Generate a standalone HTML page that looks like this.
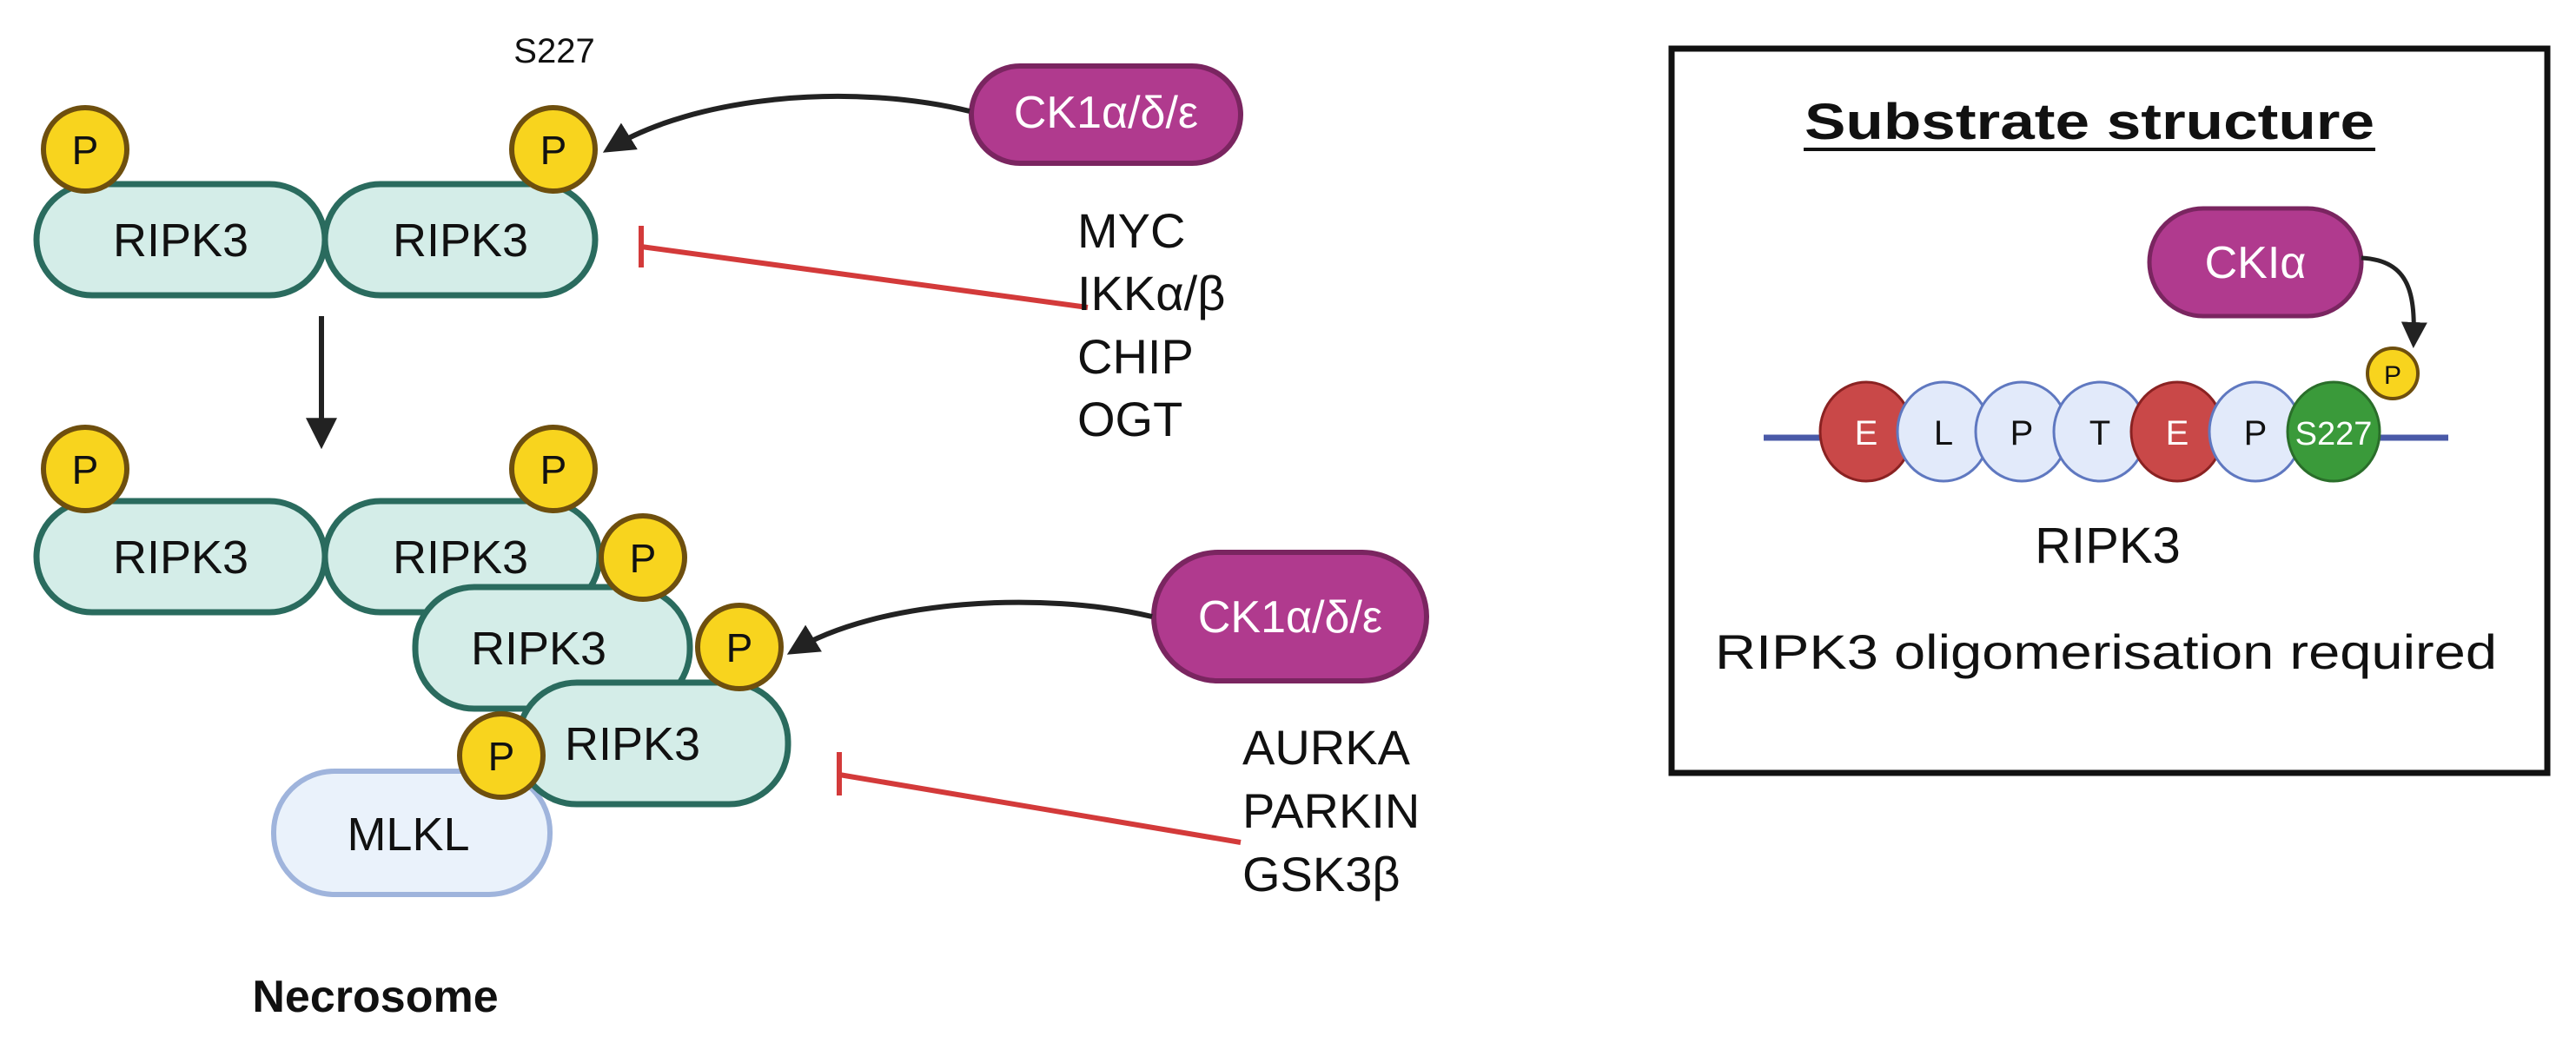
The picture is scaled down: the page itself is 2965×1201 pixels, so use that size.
<!DOCTYPE html>
<html><head><meta charset="utf-8"><style>html,body{margin:0;padding:0;background:#fff}svg{display:block}</style></head>
<body>
<svg width="2965" height="1201" viewBox="0 0 2965 1201" xmlns="http://www.w3.org/2000/svg" font-family="Liberation Sans, Arial, sans-serif">
<defs>
<marker id="ah" viewBox="0 0 10 10" refX="8" refY="5" markerWidth="6" markerHeight="6" orient="auto" markerUnits="strokeWidth"><path d="M0,0 L10,5 L0,10 z" fill="#222"/></marker>
</defs>
<g stroke="#2a6b5e" stroke-width="7" fill="#d4ede8">
<rect x="42" y="212" width="332" height="128" rx="64"/>
<rect x="374" y="212" width="311" height="128" rx="64"/>
</g>
<g fill="#f8d41e" stroke="#6e4f0e" stroke-width="6">
<circle cx="98" cy="172" r="48"/><circle cx="637" cy="172" r="48"/>
</g>
<g font-size="54" text-anchor="middle" fill="#111">
<text x="208" y="295">RIPK3</text><text x="530" y="295">RIPK3</text>
</g>
<text x="638" y="72" font-size="40" text-anchor="middle" fill="#111">S227</text>
<g stroke="#2a6b5e" stroke-width="7" fill="#d4ede8">
<rect x="42" y="577" width="332" height="128" rx="64"/>
<rect x="374" y="577" width="316" height="128" rx="64"/>
</g>
<g fill="#f8d41e" stroke="#6e4f0e" stroke-width="6">
<circle cx="98" cy="540" r="48"/><circle cx="637" cy="540" r="48"/>
</g>
<g stroke="#2a6b5e" stroke-width="7" fill="#d4ede8"><rect x="478" y="676" width="316" height="140" rx="68"/></g>
<circle cx="740" cy="642" r="48" fill="#f8d41e" stroke="#6e4f0e" stroke-width="6"/>
<rect x="315" y="888" width="318" height="142" rx="70" fill="#eaf2fb" stroke="#9fb4dc" stroke-width="6"/>
<g stroke="#2a6b5e" stroke-width="7" fill="#d4ede8"><rect x="596" y="786" width="311" height="140" rx="68"/></g>
<circle cx="851" cy="745" r="48" fill="#f8d41e" stroke="#6e4f0e" stroke-width="6"/>
<circle cx="577" cy="870" r="48" fill="#f8d41e" stroke="#6e4f0e" stroke-width="6"/>
<g font-size="54" text-anchor="middle" fill="#111">
<text x="208" y="660">RIPK3</text><text x="530" y="660">RIPK3</text>
<text x="620" y="765">RIPK3</text><text x="728" y="875">RIPK3</text>
<text x="470" y="979">MLKL</text>
</g>
<g font-size="46" text-anchor="middle" fill="#111">
<text x="98" y="189">P</text><text x="637" y="189">P</text>
<text x="98" y="557">P</text><text x="637" y="557">P</text>
<text x="740" y="659">P</text><text x="851" y="762">P</text><text x="577" y="887">P</text>
</g>
<text x="432" y="1165" font-size="52" font-weight="bold" text-anchor="middle" fill="#111">Necrosome</text>
<line x1="370" y1="364" x2="370" y2="510" stroke="#222" stroke-width="6" marker-end="url(#ah)"/>
<rect x="1118" y="76" width="310" height="112" rx="56" fill="#b03a8e" stroke="#7a2560" stroke-width="6"/>
<text x="1273" y="147" font-size="52" text-anchor="middle" fill="#fff">CK1α/δ/ε</text>
<path d="M1116,128 C980,95 800,110 700,172" fill="none" stroke="#222" stroke-width="6" marker-end="url(#ah)"/>
<line x1="1252" y1="354" x2="738" y2="284" stroke="#d33a3a" stroke-width="6"/>
<line x1="738" y1="260" x2="738" y2="308" stroke="#d33a3a" stroke-width="6"/>
<g font-size="56" fill="#111">
<text x="1240" y="285">MYC</text><text x="1240" y="357">IKKα/β</text><text x="1240" y="430">CHIP</text><text x="1240" y="502">OGT</text>
</g>
<rect x="1328" y="636" width="314" height="148" rx="74" fill="#b03a8e" stroke="#7a2560" stroke-width="6"/>
<text x="1485" y="728" font-size="52" text-anchor="middle" fill="#fff">CK1α/δ/ε</text>
<path d="M1326,710 C1200,680 1010,690 912,750" fill="none" stroke="#222" stroke-width="6" marker-end="url(#ah)"/>
<line x1="1428" y1="970" x2="966" y2="892" stroke="#d33a3a" stroke-width="6"/>
<line x1="966" y1="866" x2="966" y2="916" stroke="#d33a3a" stroke-width="6"/>
<g font-size="56" fill="#111">
<text x="1430" y="880">AURKA</text><text x="1430" y="953">PARKIN</text><text x="1430" y="1026">GSK3β</text>
</g>
<rect x="1924" y="56" width="1008" height="834" fill="#fff" stroke="#111" stroke-width="7"/>
<text x="2405" y="160" font-size="58" font-weight="bold" text-anchor="middle" fill="#111" textLength="656" lengthAdjust="spacingAndGlyphs">Substrate structure</text>
<line x1="2076" y1="172" x2="2734" y2="172" stroke="#111" stroke-width="4"/>
<rect x="2474" y="240" width="244" height="124" rx="62" fill="#b03a8e" stroke="#7a2560" stroke-width="5"/>
<text x="2596" y="320" font-size="52" text-anchor="middle" fill="#fff">CKIα</text>
<path d="M2718,297 C2775,300 2780,340 2778,395" fill="none" stroke="#222" stroke-width="5" marker-end="url(#ah)"/>
<line x1="2030" y1="504" x2="2818" y2="504" stroke="#4a5aa8" stroke-width="7"/>
<g stroke-width="3">
<ellipse cx="2148" cy="497" rx="53" ry="57" fill="#c94848" stroke="#8a2222"/>
<ellipse cx="2237" cy="497" rx="53" ry="57" fill="#e2eafa" stroke="#5f78c0"/>
<ellipse cx="2327" cy="497" rx="53" ry="57" fill="#e2eafa" stroke="#5f78c0"/>
<ellipse cx="2417" cy="497" rx="53" ry="57" fill="#e2eafa" stroke="#5f78c0"/>
<ellipse cx="2506" cy="497" rx="53" ry="57" fill="#c94848" stroke="#8a2222"/>
<ellipse cx="2596" cy="497" rx="53" ry="57" fill="#e2eafa" stroke="#5f78c0"/>
<ellipse cx="2686" cy="497" rx="53" ry="57" fill="#3a9a3a" stroke="#2a6e2a"/>
</g>
<circle cx="2754" cy="430" r="29" fill="#f8d41e" stroke="#6e4f0e" stroke-width="4"/>
<text x="2754" y="442" font-size="30" text-anchor="middle" fill="#111">P</text>
<g font-size="40" text-anchor="middle">
<text x="2148" y="512" fill="#fff">E</text><text x="2237" y="512" fill="#111">L</text><text x="2327" y="512" fill="#111">P</text><text x="2417" y="512" fill="#111">T</text><text x="2506" y="512" fill="#fff">E</text><text x="2596" y="512" fill="#111">P</text><text x="2686" y="512" fill="#fff" font-size="38">S227</text>
</g>
<text x="2426" y="648" font-size="58" text-anchor="middle" fill="#111">RIPK3</text>
<text x="2424" y="770" font-size="56" text-anchor="middle" fill="#111" textLength="900" lengthAdjust="spacingAndGlyphs">RIPK3 oligomerisation required</text>
</svg>
</body></html>
